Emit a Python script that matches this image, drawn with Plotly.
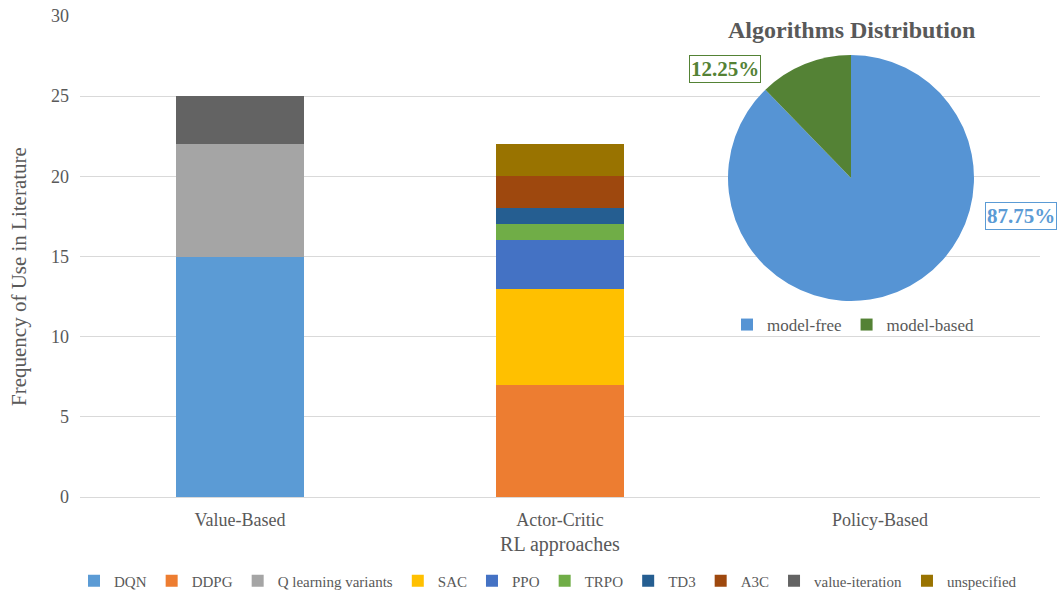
import plotly.graph_objects as go

categories = ["Value-Based", "Actor-Critic", "Policy-Based"]
series_names = ["DQN", "DDPG", "Q learning variants", "SAC", "PPO", "TRPO", "TD3", "A3C", "value-iteration", "unspecified"]
dqn = [15, 0, 0]
ddpg = [0, 7, 0]
q_learning = [7, 0, 0]
sac = [0, 6, 0]
ppo = [0, 3, 0]
trpo = [0, 1, 0]
td3 = [0, 1, 0]
a3c = [0, 2, 0]
value_iteration = [3, 0, 0]
unspecified = [0, 2, 0]
series_values = [dqn, ddpg, q_learning, sac, ppo, trpo, td3, a3c, value_iteration, unspecified]
series_colors = ["#5B9BD5", "#ED7D31", "#A5A5A5", "#FFC000", "#4472C4", "#70AD47", "#255E91", "#9E480E", "#636363", "#997300"]

pie_labels = ["model-free", "model-based"]
pie_values = [87.75, 12.25]
pie_colors = ["#5694D4", "#548235"]

FONT = "Liberation Serif"
GRAY = "#595959"

W, H = 1060, 591
L, T, PW, PH = 80, 16, 960, 481


def px(xp):
    return (xp - L) / PW


def py(yp):
    return (T + PH - yp) / PH


fig = go.Figure()
for name, vals, col in zip(series_names, series_values, series_colors):
    fig.add_trace(go.Bar(x=categories, y=vals, name=name, marker=dict(color=col, line=dict(width=0)),
                         legend="legend"))

fig.add_trace(go.Pie(labels=pie_labels, values=pie_values, sort=False, direction="clockwise", rotation=0,
                     marker=dict(colors=pie_colors), textinfo="none", hoverinfo="label+percent",
                     domain=dict(x=[px(728), px(974)], y=[py(301), py(55)]), legend="legend2"))

fig.update_layout(
    width=W, height=H,
    margin=dict(l=L, r=W - L - PW, t=T, b=H - T - PH, autoexpand=False),
    barmode="stack", bargap=0.6,
    plot_bgcolor="white", paper_bgcolor="white",
    font=dict(family=FONT, color=GRAY, size=16),
    xaxis=dict(title=dict(text="RL approaches", font=dict(size=20, color=GRAY), standoff=8),
               showline=True, linecolor="#D9D9D9", linewidth=1, ticks="", ticklabelstandoff=6,
               tickfont=dict(size=18, color=GRAY), automargin=False),
    yaxis=dict(range=[0, 30], tickvals=[0, 5, 10, 15, 20, 25, 30], showgrid=True, gridcolor="#D9D9D9",
               gridwidth=1, zeroline=False, ticklabeloverflow="allow",
               ticklabelstandoff=10, tickfont=dict(size=18, color=GRAY), automargin=False),
    legend=dict(orientation="h", x=px(74), xanchor="left", y=py(581), yanchor="middle",
                font=dict(size=15, color=GRAY), itemwidth=30, tracegroupgap=0, traceorder="normal"),
    legend2=dict(orientation="h", x=px(853), xanchor="center", y=py(325), yanchor="middle",
                 font=dict(size=17, color=GRAY), itemwidth=30, bgcolor="rgba(255,255,255,0)"),
    annotations=[
        dict(text="Frequency of Use in Literature", x=px(19), y=py(277), xref="paper", yref="paper",
             textangle=-90, showarrow=False, font=dict(size=21, color=GRAY, family=FONT),
             xanchor="center", yanchor="middle"),
        dict(text="<b>Algorithms Distribution</b>", x=px(851), y=py(30), xref="paper", yref="paper",
             showarrow=False, font=dict(size=24, color=GRAY, family=FONT), xanchor="center", yanchor="middle"),
        dict(text="<b>12.25%</b>", x=px(725), y=py(69), xref="paper", yref="paper",
             showarrow=False, font=dict(size=21, color="#548235", family=FONT), bordercolor="#548235",
             borderwidth=1, borderpad=1, bgcolor="white", xanchor="center", yanchor="middle"),
        dict(text="<b>87.75%</b>", x=px(1021), y=py(216), xref="paper", yref="paper",
             showarrow=False, font=dict(size=21, color="#5B9BD5", family=FONT), bordercolor="#5B9BD5",
             borderwidth=1, borderpad=1, bgcolor="white", xanchor="center", yanchor="middle"),
    ],
)

fig.write_html("out.html", config={"displayModeBar": False},
               post_script="document.body.style.margin='0';document.body.style.overflow='hidden';")
